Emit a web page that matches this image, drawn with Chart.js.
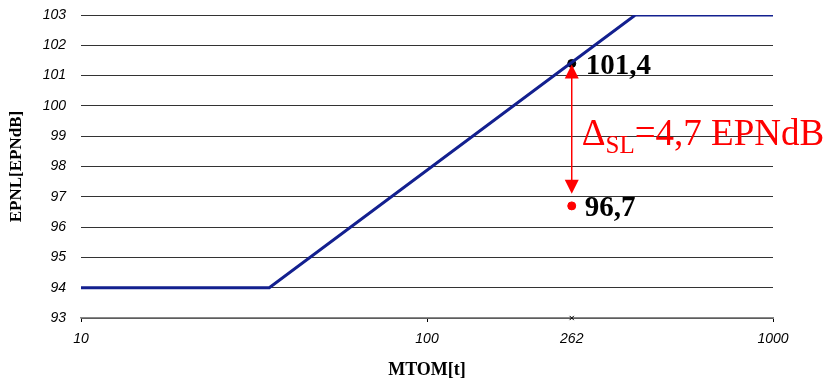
<!DOCTYPE html>
<html>
<head>
<meta charset="utf-8">
<script src="https://cdn.jsdelivr.net/npm/chart.js@4.4.0/dist/chart.umd.min.js"></script>
<style>
  body { margin: 0; background: #fff; }
  #wrap { width: 831px; height: 384px; }
</style>
</head>
<body>
<div id="wrap"><canvas id="myChart"></canvas></div>
<script>
// limit line (MTOM in t vs EPNL)
const massT = [10, 35, 400, 1000];
const limitEPNdB = [94, 94, 103, 103];
// aircraft point
const aircraftMass = 262;
const limitValue = 101.4;
const measuredValue = 96.7;
const arrowBottom = 97.1;   // arrow stops just above the red point
const deltaLabel = "4,7 EPNdB";
const xTickValues = [10, 100, 262, 1000];
const yMin = 93, yMax = 103;

const serif = "'Liberation Serif', 'Times New Roman', serif";
const sans = "'Liberation Sans', Arial, sans-serif";

const annot = {
    id: "annot",
    afterDatasetsDraw(chart) {
        const ctx = chart.ctx;
        const xs = chart.scales.x, ys = chart.scales.y;
        const x = xs.getPixelForValue(aircraftMass);
        const yTop = ys.getPixelForValue(limitValue);
        const yBot = ys.getPixelForValue(arrowBottom);
        ctx.save();
        // arrow
        ctx.strokeStyle = "#ff0000";
        ctx.fillStyle = "#ff0000";
        ctx.lineWidth = 1.5;
        ctx.beginPath();
        ctx.moveTo(x, yTop + 10);
        ctx.lineTo(x, yBot - 10);
        ctx.stroke();
        ctx.beginPath();
        ctx.moveTo(x, yTop + 1);
        ctx.lineTo(x - 7, yTop + 15);
        ctx.lineTo(x + 7, yTop + 15);
        ctx.closePath();
        ctx.fill();
        ctx.beginPath();
        ctx.moveTo(x, yBot);
        ctx.lineTo(x - 7, yBot - 14);
        ctx.lineTo(x + 7, yBot - 14);
        ctx.closePath();
        ctx.fill();

        // value labels
        ctx.fillStyle = "#000";
        ctx.textBaseline = "alphabetic";
        ctx.textAlign = "left";
        ctx.font = "bold 29px " + serif;
        ctx.fillText(String(limitValue).replace(".", ","), x + 14, yTop + 11);
        ctx.fillText(String(measuredValue).replace(".", ","), x + 13, ys.getPixelForValue(measuredValue) + 10);

        // delta label
        ctx.fillStyle = "#ff0000";
        let tx = x + 10;
        const base = ys.getPixelForValue((limitValue + measuredValue) / 2) + 10;
        ctx.font = "37px " + serif;
        ctx.fillText("\u0394", tx, base);
        tx += ctx.measureText("\u0394").width;
        ctx.font = "25px " + serif;
        ctx.fillText("SL", tx, base + 8);
        tx += ctx.measureText("SL").width;
        ctx.font = "37px " + serif;
        ctx.fillText("=" + deltaLabel, tx, base);
        ctx.restore();
    }
};

new Chart(document.getElementById("myChart"), {
    type: "scatter",
    data: {
        datasets: [
            {
                data: massT.map((m, i) => ({ x: m, y: limitEPNdB[i] })),
                showLine: true,
                borderColor: "#13208f",
                borderWidth: 3,
                pointRadius: 0,
                tension: 0
            },
            {
                data: [{ x: aircraftMass, y: limitValue }],
                backgroundColor: "#000",
                borderColor: "#000",
                pointRadius: 4
            },
            {
                data: [{ x: aircraftMass, y: measuredValue }],
                backgroundColor: "#ff0000",
                borderColor: "#ff0000",
                pointRadius: 4
            },
            {
                data: [{ x: aircraftMass, y: yMin }],
                pointStyle: "crossRot",
                borderColor: "#000",
                borderWidth: 1,
                pointRadius: 3,
                clip: false
            }
        ]
    },
    options: {
        responsive: true,
        maintainAspectRatio: false,
        animation: false,
        layout: { padding: { top: 15, right: 58, left: 0, bottom: 0 } },
        plugins: { legend: { display: false }, tooltip: { enabled: false } },
        scales: {
            x: {
                type: "logarithmic",
                min: 10,
                max: 1000,
                afterBuildTicks: (s) => { s.ticks = xTickValues.map(v => ({ value: v })); },
                afterFit: (s) => { s.height = 66; },
                ticks: {
                    autoSkip: false,
                    maxRotation: 0,
                    padding: 9,
                    color: "#000",
                    font: { family: sans, size: 14, style: "italic" },
                    callback: (v) => String(v)
                },
                grid: {
                    drawOnChartArea: false,
                    drawTicks: true,
                    tickLength: 4,
                    color: (c) => (c.tick && c.tick.value === aircraftMass ? "rgba(0,0,0,0)" : "#000")
                },
                border: { color: "#888", width: 1.5 },
                title: {
                    display: true,
                    text: "MTOM[t]",
                    color: "#000",
                    font: { family: serif, size: 18, weight: "bold" },
                    padding: { top: 3, bottom: 3 }
                }
            },
            y: {
                min: yMin,
                max: yMax,
                afterFit: (s) => { s.width = 81; s.paddingTop = 0; s.paddingBottom = 0; },
                ticks: {
                    stepSize: 1,
                    padding: 15,
                    color: "#000",
                    font: { family: sans, size: 14, style: "italic" }
                },
                grid: { color: "#333", drawTicks: false },
                border: { display: false },
                title: {
                    display: true,
                    text: "EPNL[EPNdB]",
                    color: "#000",
                    font: { family: serif, size: 17, weight: "bold" },
                    padding: { top: 6, bottom: 0 }
                }
            }
        }
    },
    plugins: [annot]
});
</script>
</body>
</html>
